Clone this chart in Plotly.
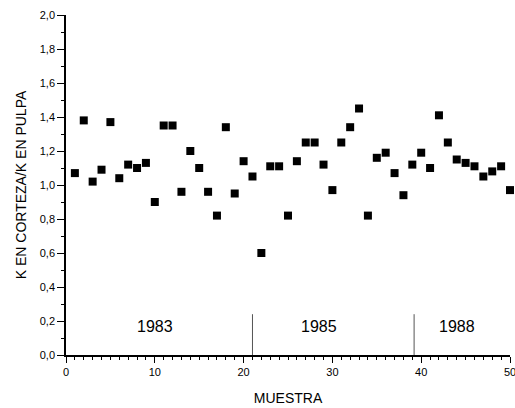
import plotly.graph_objects as go

# Sample number and ratio of K in bark to K in pulp
muestra = list(range(1, 51))
ratio = [1.07, 1.38, 1.02, 1.09, 1.37, 1.04, 1.12, 1.10, 1.13, 0.90,
         1.35, 1.35, 0.96, 1.20, 1.10, 0.96, 0.82, 1.34, 0.95, 1.14,
         1.05, 0.60, 1.11, 1.11, 0.82, 1.14, 1.25, 1.25, 1.12, 0.97,
         1.25, 1.34, 1.45, 0.82, 1.16, 1.19, 1.07, 0.94, 1.12, 1.19,
         1.10, 1.41, 1.25, 1.15, 1.13, 1.11, 1.05, 1.08, 1.11, 0.97]

# Campaign boundaries and labels
divisiones = [21, 39.2]
altura_division = 0.24
campanas = ["1983", "1985", "1988"]
campana_x = [10, 28.5, 44]
campana_y = 0.17

fig = go.Figure()

for xd in divisiones:
    fig.add_trace(go.Scatter(
        x=[xd, xd], y=[0, altura_division], mode="lines",
        line=dict(color="#555", width=1), showlegend=False, hoverinfo="skip"))

fig.add_trace(go.Scatter(
    x=muestra, y=ratio, mode="markers", cliponaxis=False,
    marker=dict(symbol="square", size=8, color="black"),
    showlegend=False))

for label, xc in zip(campanas, campana_x):
    fig.add_annotation(x=xc, y=campana_y, text=label, showarrow=False,
                       font=dict(size=16, color="black"))

fig.update_layout(
    width=515, height=408,
    margin=dict(l=66, r=5, t=15, b=53),
    paper_bgcolor="white", plot_bgcolor="white",
    separators=",.",
    font=dict(family="Liberation Sans, Arial, sans-serif", color="black"),
    xaxis=dict(
        range=[0, 50], tickvals=[0, 10, 20, 30, 40, 50],
        ticks="outside", ticklen=6, tickwidth=1, tickcolor="black",
        minor=dict(dtick=1, ticks="outside", ticklen=3, tickcolor="black"),
        showline=True, linecolor="black", linewidth=1.5,
        showgrid=False, zeroline=False, automargin=False,
        tickfont=dict(size=11), ticklabeloverflow="allow",
        title=dict(text="MUESTRA", font=dict(size=14), standoff=16),
    ),
    yaxis=dict(
        range=[0, 2], dtick=0.2, tickformat=".1f",
        ticks="outside", ticklen=7, tickwidth=1, tickcolor="black",
        minor=dict(dtick=0.1, ticks="outside", ticklen=3, tickcolor="black"),
        showline=True, linecolor="black", linewidth=1.5,
        showgrid=False, zeroline=False, automargin=False,
        tickfont=dict(size=11),
        title=dict(text="K EN CORTEZA/K EN PULPA", font=dict(size=14), standoff=10),
    ),
)

fig.write_html("out.html")
